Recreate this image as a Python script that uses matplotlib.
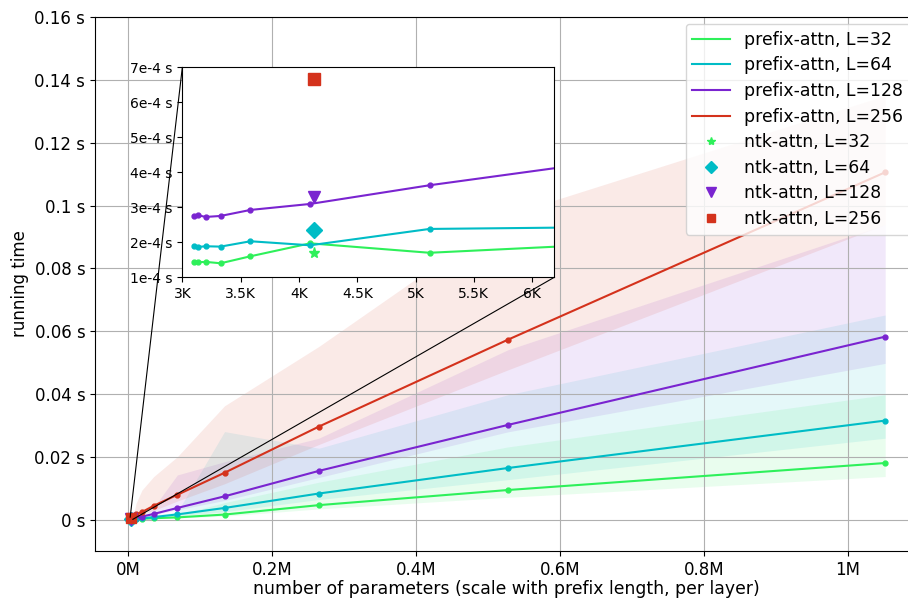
"""
Tempo de execução prefix-attn vs ntk-attn em função do número de parâmetros.
"""

import numpy as np
import matplotlib
matplotlib.use("Agg")
import matplotlib.pyplot as plt
from matplotlib.ticker import FuncFormatter, MultipleLocator
from mpl_toolkits.axes_grid1.inset_locator import mark_inset

plt.rcParams["font.size"] = 12

# ── Dados ────────────────────────────────────────────────────────────────────
n_params = [3104, 3136, 3200, 3328, 3584, 4096, 5120, 7168, 11264, 19456,
            35840, 68608, 134144, 265216, 527360, 1051648]

t32 = [1.43e-4, 1.43e-4, 1.44e-4, 1.40e-4, 1.60e-4, 1.97e-4, 1.70e-4, 2.03e-4,
       2.6e-4, 3.5e-4, 5.4e-4, 8.0e-4, 1.70e-3, 4.7e-3, 9.5e-3, 1.81e-2]
t64 = [1.886e-4, 1.867e-4, 1.886e-4, 1.876e-4, 2.029e-4, 1.914e-4, 2.381e-4, 2.45e-4,
       3.2e-4, 5.0e-4, 9.0e-4, 1.75e-3, 3.8e-3, 8.4e-3, 1.65e-2, 3.16e-2]
t128 = [2.743e-4, 2.771e-4, 2.724e-4, 2.752e-4, 2.924e-4, 3.095e-4, 3.629e-4, 4.56e-4,
        6.5e-4, 1.05e-3, 1.9e-3, 3.8e-3, 7.5e-3, 1.56e-2, 3.02e-2, 5.83e-2]
t256 = [8.6e-4, 8.7e-4, 8.8e-4, 8.9e-4, 9.2e-4, 9.8e-4, 1.08e-3, 1.25e-3,
        1.8e-3, 2.5e-3, 4.5e-3, 8.0e-3, 1.50e-2, 2.97e-2, 5.73e-2, 1.106e-1]

# faixas (mín / máx) — só visíveis a partir de ~10K parâmetros
lo32 = [1.40e-4, 1.40e-4, 1.41e-4, 1.37e-4, 1.55e-4, 1.90e-4, 1.65e-4, 1.95e-4,
        2.3e-4, 3.2e-4, 4.0e-4, 6.0e-4, 1.2e-3, 3.5e-3, 7.2e-3, 1.38e-2]
hi32 = [1.46e-4, 1.46e-4, 1.47e-4, 1.43e-4, 1.65e-4, 2.04e-4, 1.75e-4, 2.10e-4,
        3.2e-4, 5.0e-4, 8.0e-4, 1.6e-3, 5.5e-3, 1.2e-2, 2.32e-2, 3.98e-2]
lo64 = [1.85e-4, 1.83e-4, 1.85e-4, 1.84e-4, 1.98e-4, 1.87e-4, 2.32e-4, 2.38e-4,
        2.8e-4, 4.2e-4, 7.0e-4, 1.3e-3, 2.6e-3, 6.5e-3, 1.28e-2, 2.6e-2]
hi64 = [1.92e-4, 1.90e-4, 1.92e-4, 1.91e-4, 2.08e-4, 1.96e-4, 2.44e-4, 2.52e-4,
        4.0e-4, 8.0e-4, 1.6e-3, 2.5e-3, 2.81e-2, 2.28e-2, 3.98e-2, 6.52e-2]
lo128 = [2.70e-4, 2.73e-4, 2.68e-4, 2.71e-4, 2.88e-4, 3.04e-4, 3.56e-4, 4.45e-4,
         5.5e-4, 9.0e-4, 1.6e-3, 3.2e-3, 6.2e-3, 1.35e-2, 2.8e-2, 4.98e-2]
hi128 = [2.78e-4, 2.81e-4, 2.77e-4, 2.80e-4, 2.97e-4, 3.15e-4, 3.70e-4, 4.68e-4,
         8.0e-4, 1.4e-3, 4.0e-3, 1.43e-2, 1.85e-2, 2.6e-2, 5.41e-2, 9.4e-2]
lo256 = [8.4e-4, 8.5e-4, 8.6e-4, 8.7e-4, 9.0e-4, 9.6e-4, 1.05e-3, 1.2e-3,
         1.5e-3, 2.0e-3, 3.0e-3, 6.0e-3, 1.15e-2, 2.4e-2, 4.77e-2, 9.4e-2]
hi256 = [8.8e-4, 8.9e-4, 9.0e-4, 9.1e-4, 9.4e-4, 1.0e-3, 1.11e-3, 1.3e-3,
         5.3e-3, 9.5e-3, 1.38e-2, 2.01e-2, 3.63e-2, 5.52e-2, 9.7e-2, 1.35e-1]

ntk_params = 4128
ntk_times = [1.705e-4, 2.343e-4, 3.305e-4, 6.657e-4]

lengths = [32, 64, 128, 256]
means = [t32, t64, t128, t256]
lows = [lo32, lo64, lo128, lo256]
highs = [hi32, hi64, hi128, hi256]
colors = ["#2ef05a", "#00bcc6", "#7a24d0", "#d4321c"]
ntk_markers = ["*", "D", "v", "s"]
ntk_sizes = [7, 7, 8, 7]

x = np.array(n_params)

# ── Figura principal ─────────────────────────────────────────────────────────
fig = plt.figure(figsize=(9.08, 5.99), dpi=100)
ax = fig.add_axes([0.1046, 0.0801, 0.9064, 0.8915])

for lo, hi, c in zip(lows, highs, colors):
    ax.fill_between(x, lo, hi, color=c, alpha=0.1, linewidth=0)
for L, m, c in zip(lengths, means, colors):
    ax.plot(x, m, "-", color=c, lw=1.5, label=f"prefix-attn, L={L}")
    ax.plot(x, m, "o", color=c, ms=3.5)
for L, t, c, mk, ms in zip(lengths, ntk_times, colors, ntk_markers, ntk_sizes):
    ax.plot([ntk_params], [t], mk, color=c, ms=ms, linestyle="none",
            label=f"ntk-attn, L={L}")

ax.set_xlim(-45800, 1.0972e6)
ax.set_ylim(-0.0099, 0.16)
ax.xaxis.set_major_locator(MultipleLocator(2e5))
ax.yaxis.set_major_locator(MultipleLocator(0.02))
ax.xaxis.set_major_formatter(FuncFormatter(lambda v, p: f"{v / 1e6:g}M"))
ax.yaxis.set_major_formatter(FuncFormatter(lambda v, p: f"{round(v, 4):g} s"))
ax.set_xlabel("number of parameters (scale with prefix length, per layer)",
              fontsize=12.4, labelpad=1)
ax.set_ylabel("running time")
ax.grid(True)
ax.legend(loc="upper right", bbox_to_anchor=(910 / 908, 575 / 599),
          bbox_transform=fig.transFigure, borderaxespad=0,
          handlelength=2.2, markerscale=0.85, fontsize=12.4, labelspacing=0.44)

# ── Zoom (inset) ─────────────────────────────────────────────────────────────
axins = fig.add_axes([0.2008, 0.5371, 0.4097, 0.3506])
for m, c in zip(means, colors):
    axins.plot(x, m, "-o", color=c, lw=1.5, ms=3.5)
for t, c, mk, ms in zip(ntk_times, colors, ntk_markers, ntk_sizes):
    axins.plot([ntk_params], [t], mk, color=c, ms=ms + 1, linestyle="none")
axins.set_xlim(3000, 6190)
axins.set_ylim(1e-4, 7e-4)
axins.xaxis.set_major_locator(MultipleLocator(500))
axins.yaxis.set_major_locator(MultipleLocator(1e-4))
axins.xaxis.set_major_formatter(FuncFormatter(lambda v, p: f"{v / 1e3:g}K"))
axins.yaxis.set_major_formatter(FuncFormatter(lambda v, p: f"{v * 1e4:.0f}e-4 s"))
axins.tick_params(labelsize=10)

mark_inset(ax, axins, loc1=2, loc2=4, fc="none", ec="k", lw=0.8)

fig.savefig("out.png", dpi=100)
